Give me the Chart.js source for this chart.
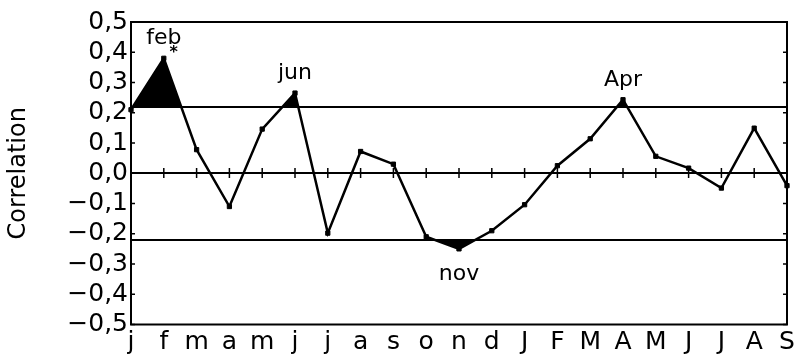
<!DOCTYPE html>
<html>
<head>
<meta charset="utf-8">
<script src="https://cdn.jsdelivr.net/npm/chart.js@4.4.1/dist/chart.umd.min.js"></script>
<style>
  html, body { margin: 0; padding: 0; background: #fff; }
  #wrap { width: 800px; height: 360px; }
</style>
</head>
<body>
<div id="wrap"><canvas id="c" width="800" height="360"></canvas></div>
<script>
// Months from January of year one to September of year two
const months = ['j','f','m','a','m','j','j','a','s','o','n','d','J','F','M','A','M','J','J','A','S'];
const correlation = [0.21, 0.38, 0.078, -0.11, 0.146, 0.265, -0.198, 0.072, 0.03, -0.21, -0.25, -0.19, -0.104, 0.025, 0.114, 0.243, 0.056, 0.017, -0.049, 0.149, -0.041];
const yTicks = [-0.5, -0.4, -0.3, -0.2, -0.1, 0, 0.1, 0.2, 0.3, 0.4, 0.5];
const significance = 0.22;
const peakIndex = [1, 5, 15, 10];
const peakText = ['feb', 'jun', 'Apr', 'nov'];
const starIndex = [1];

const FONT = 'DejaVu Sans';

const fmt = v => {
  const s = Math.abs(v).toFixed(1).replace('.', ',');
  return v < -1e-9 ? '\u2212' + s : s;
};

const framePlugin = {
  id: 'frame',
  beforeDatasetsDraw(chart) {
    const { ctx, chartArea: a, scales: { x, y } } = chart;
    ctx.save();
    ctx.strokeStyle = '#000';
    ctx.lineWidth = 2;
    // zero line and significance limits
    [0, significance, -significance].forEach(v => {
      const py = Math.round(y.getPixelForValue(v));
      ctx.beginPath();
      ctx.moveTo(a.left, py);
      ctx.lineTo(a.right, py);
      ctx.stroke();
    });
    // month ticks across the zero line
    const y0 = Math.round(y.getPixelForValue(0));
    ctx.lineWidth = 1.5;
    months.forEach((m, i) => {
      const px = x.getPixelForValue(i);
      ctx.beginPath();
      ctx.moveTo(px, y0 - 5);
      ctx.lineTo(px, y0 + 5);
      ctx.stroke();
    });
    // value ticks on both sides of the frame
    yTicks.forEach(v => {
      const py = y.getPixelForValue(v);
      ctx.beginPath();
      ctx.moveTo(a.left, py);
      ctx.lineTo(a.left + 4, py);
      ctx.moveTo(a.right, py);
      ctx.lineTo(a.right - 4, py);
      ctx.stroke();
    });
    ctx.restore();
  },
  afterDatasetsDraw(chart) {
    const { ctx, chartArea: a, scales: { x, y } } = chart;
    ctx.save();
    ctx.strokeStyle = '#000';
    ctx.lineWidth = 2;
    ctx.strokeRect(a.left, a.top, a.right - a.left, a.bottom - a.top);
    // month names at the peaks
    ctx.fillStyle = '#000';
    ctx.font = '22px "' + FONT + '"';
    ctx.textAlign = 'center';
    ctx.textBaseline = 'alphabetic';
    peakIndex.forEach((idx, k) => {
      const v = correlation[idx];
      const px = x.getPixelForValue(idx);
      const py = y.getPixelForValue(v);
      ctx.fillText(peakText[k], px, v >= 0 ? py - 14 : py + 31);
    });
    ctx.font = 'bold 16px "' + FONT + '"';
    ctx.textBaseline = 'middle';
    starIndex.forEach(idx => {
      const px = x.getPixelForValue(idx);
      const py = y.getPixelForValue(correlation[idx]);
      ctx.fillText('*', px + 10, py - 5);
    });
    ctx.restore();
  }
};

new Chart(document.getElementById('c'), {
  type: 'line',
  data: {
    labels: months,
    datasets: [
      {
        data: correlation,
        borderColor: '#000',
        borderWidth: 2.5,
        pointStyle: 'rect',
        pointRadius: 3,
        pointBackgroundColor: '#000',
        pointBorderColor: '#000',
        pointBorderWidth: 1,
        tension: 0,
        fill: { target: { value: significance }, above: '#000', below: 'rgba(0,0,0,0)' }
      },
      {
        data: correlation,
        borderWidth: 0,
        borderColor: 'rgba(0,0,0,0)',
        pointRadius: 0,
        tension: 0,
        fill: { target: { value: -significance }, above: 'rgba(0,0,0,0)', below: '#000' }
      }
    ]
  },
  options: {
    responsive: false,
    animation: false,
    layout: { padding: { top: 22, right: 13, left: 0, bottom: 0 } },
    plugins: { legend: { display: false }, tooltip: { enabled: false } },
    scales: {
      x: {
        type: 'category',
        offset: false,
        grid: { display: false, drawTicks: false },
        border: { display: false },
        ticks: {
          color: '#000',
          font: { family: FONT, size: 25 },
          padding: 3,
          maxRotation: 0,
          autoSkip: false
        },
        afterFit(scale) { scale.height = 35.5; }
      },
      y: {
        min: -0.5,
        max: 0.5,
        grid: { display: false, drawTicks: false },
        border: { display: false },
        afterBuildTicks(scale) { scale.ticks = yTicks.map(v => ({ value: v })); },
        ticks: {
          color: '#000',
          font: { family: FONT, size: 25, lineHeight: 1 },
          padding: 3,
          autoSkip: false,
          callback: v => fmt(v)
        },
        title: {
          display: true,
          text: 'Correlation',
          color: '#000',
          font: { family: FONT, size: 24 },
          padding: { top: 4, bottom: 0 }
        },
        afterFit(scale) { scale.width = 131; }
      }
    }
  },
  plugins: [framePlugin]
});
</script>
</body>
</html>
